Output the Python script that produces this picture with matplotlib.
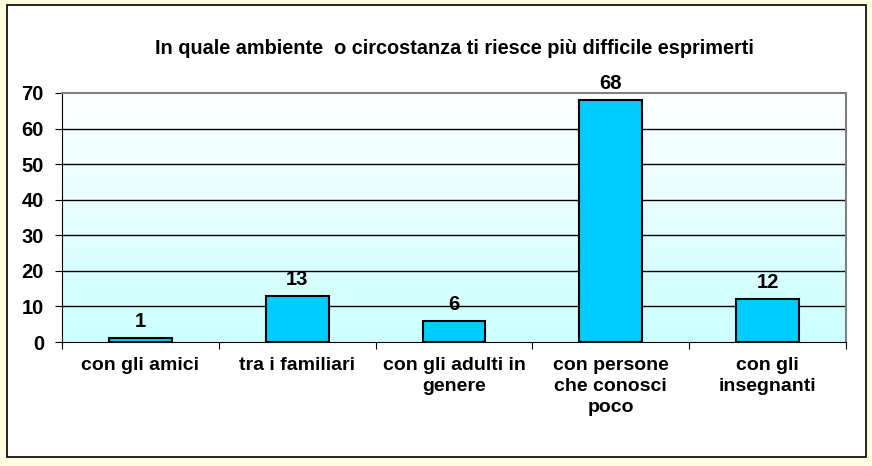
import matplotlib
matplotlib.use("Agg")
import matplotlib.pyplot as plt
import numpy as np
from matplotlib.patches import Rectangle
from matplotlib.colors import LinearSegmentedColormap

categories = ["con gli amici", "tra i familiari", "con gli adulti in\ngenere",
              "con persone\nche conosci\npoco", "con gli\ninsegnanti"]
values = [1, 13, 6, 68, 12]
yticks = [0, 10, 20, 30, 40, 50, 60, 70]
title = "In quale ambiente  o circostanza ti riesce più difficile esprimerti"

plt.rcParams['font.family'] = ['Liberation Sans', 'DejaVu Sans']

W, H = 872, 466
fig = plt.figure(figsize=(W/100, H/100), dpi=100)
fig.patch.set_facecolor('#FFFFE0')
fig.patches.append(Rectangle((7/W, 1 - 457/H), (866-7)/W, (457-5)/H,
                             transform=fig.transFigure, facecolor='white',
                             edgecolor='black', linewidth=1.2, zorder=-5))

left, right, top, bottom = 62, 846, 93, 342
ax = fig.add_axes([left/W, 1 - bottom/H, (right-left)/W, (bottom-top)/H])
ax.set_zorder(2)
ax.set_xlim(-0.5, len(categories) - 0.5)
ax.set_ylim(0, 70)

cmap = LinearSegmentedColormap.from_list('g', ['#CCFFFF', '#FFFFFF'])
grad = np.linspace(0, 1, 256).reshape(-1, 1)
ax.imshow(grad, aspect='auto', cmap=cmap, origin='lower',
          extent=(-0.5, len(categories) - 0.5, 0, 70), zorder=0)

for y in yticks[1:-1]:
    ax.axhline(y, color='black', linewidth=1, zorder=1)

x = np.arange(len(categories))
bars = ax.bar(x, values, width=0.4, color='#00CCFF', edgecolor='black',
              linewidth=1.5, zorder=3)
for xi, v in zip(x, values):
    ax.text(xi, v + 2.0, str(v), ha='center', va='bottom', fontsize=14.5,
            fontweight='bold')

ax.spines['top'].set_color('#808080')
ax.spines['right'].set_color('#808080')
ax.spines['top'].set_linewidth(1.5)
ax.spines['right'].set_linewidth(1.5)
ax.spines['left'].set_color('black')
ax.spines['bottom'].set_color('black')

ax.set_yticks(yticks)
ax.set_yticklabels([str(t) for t in yticks], fontsize=14.5, fontweight='bold')
ax.set_xticks(np.arange(len(categories) + 1) - 0.5, minor=False)
ax.set_xticklabels([])
ax.tick_params(axis='x', length=5, direction='out', color='black')
ax.tick_params(axis='y', length=5, direction='out', color='black', pad=8)
ax.set_xticks(x, minor=True)
ax.set_xticklabels(categories, minor=True, fontsize=14, fontweight='bold',
                   linespacing=1.3)
ax.tick_params(axis='x', which='minor', length=0, pad=11)

fig.text((left+right)/2/W, 1 - 48/H, title, ha='center', va='center',
         fontsize=14.3, fontweight='bold')

fig.savefig('out.png', dpi=100, facecolor=fig.get_facecolor())
